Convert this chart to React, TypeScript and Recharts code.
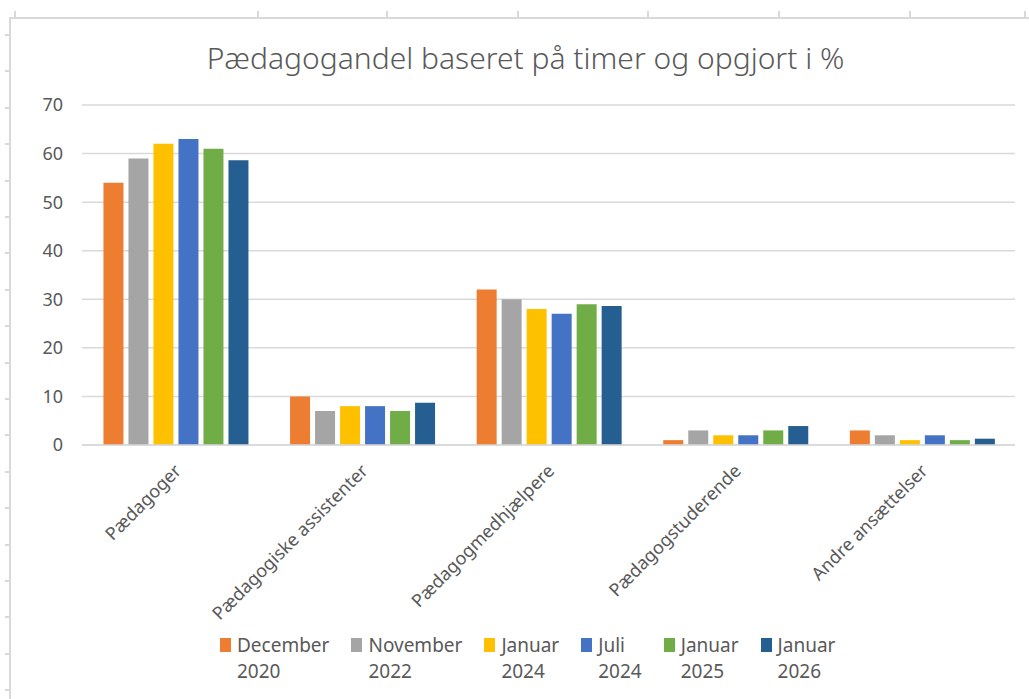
import React from 'react';
import { BarChart, Bar, XAxis, YAxis, CartesianGrid } from 'recharts';

// kategorier og serier
const categories = [
  'Pædagoger',
  'Pædagogiske assistenter',
  'Pædagogmedhjælpere',
  'Pædagogstuderende',
  'Andre ansættelser',
];
const december2020 = [54, 10, 32, 1, 3];
const november2022 = [59, 7, 30, 3, 2];
const januar2024 = [62, 8, 28, 2, 1];
const juli2024 = [63, 8, 27, 2, 2];
const januar2025 = [61, 7, 29, 3, 1];
const januar2026 = [58.6, 8.7, 28.6, 3.9, 1.3];
const yTicks = [0, 10, 20, 30, 40, 50, 60, 70];

const series = [
  { key: 'd20', name: ['December', '2020'], values: december2020, color: '#ED7D31' },
  { key: 'n22', name: ['November', '2022'], values: november2022, color: '#A5A5A5' },
  { key: 'j24', name: ['Januar', '2024'], values: januar2024, color: '#FFC000' },
  { key: 'jul24', name: ['Juli', '2024'], values: juli2024, color: '#4472C4' },
  { key: 'j25', name: ['Januar', '2025'], values: januar2025, color: '#70AD47' },
  { key: 'j26', name: ['Januar', '2026'], values: januar2026, color: '#255E91' },
];

// regneark-baggrund (kolonne- og rækkemarkeringer)
const colMarks = [15, 258, 387, 518, 648, 779, 910, 1025];
const rowMarks = Array.from({ length: 19 }, (_, i) => 35 + i * 36.4);

const FONT = '"Noto Sans", "Open Sans", sans-serif';
const TEXT = '#595959';
const GRID = '#d9d9d9';

const data = categories.map((c, i) => {
  const row: Record<string, string | number> = { name: c };
  series.forEach(s => { row[s.key] = s.values[i]; });
  return row;
});

const CategoryTick = (props: any) => {
  const { x, y, payload } = props;
  return (
    <g transform={`translate(${x + 7},${y + 19})`}>
      <text textAnchor="end" transform="rotate(-45)" fill={TEXT} fontSize={18} fontFamily={FONT}>
        {payload.value}
      </text>
    </g>
  );
};

export default function App() {
  return (
    <div style={{ position: 'absolute', left: 0, top: 0, width: 1029, height: 699, background: '#fff', overflow: 'hidden', fontFamily: FONT }}>
      {colMarks.map(x => (
        <div key={'c' + x} style={{ position: 'absolute', left: x - 1, top: 11, width: 2, height: 7, background: GRID }} />
      ))}
      {rowMarks.map(y => (
        <div key={'r' + y} style={{ position: 'absolute', left: 5, top: y - 1, width: 5, height: 2, background: GRID }} />
      ))}
      <div style={{ position: 'absolute', left: 9, top: 17, right: 0, height: 2, background: GRID }} />
      <div style={{ position: 'absolute', left: 9, top: 17, width: 2, bottom: 0, background: GRID }} />

      <div style={{ position: 'absolute', left: 0, width: 1051, top: 37, textAlign: 'center', fontSize: 30, fontWeight: 300, color: TEXT, whiteSpace: 'nowrap' }}>
        Pædagogandel baseret på timer og opgjort i %
      </div>

      <div style={{ position: 'absolute', left: 0, top: 0 }}>
        <BarChart
          width={1029}
          height={699}
          data={data}
          margin={{ top: 105, right: 14, bottom: 0, left: 0 }}
          barCategoryGap="11.5%"
          barGap={5}
        >
          <CartesianGrid vertical={false} stroke={GRID} strokeWidth={1.5} />
          <XAxis
            dataKey="name"
            axisLine={{ stroke: GRID, strokeWidth: 1.5 }}
            tickLine={false}
            interval={0}
            height={254}
            tick={<CategoryTick />}
          />
          <YAxis
            domain={[0, 70]}
            ticks={yTicks}
            width={82}
            axisLine={false}
            tickLine={false}
            tickSize={0}
            tickMargin={19}
            tick={{ fill: TEXT, fontSize: 18, fontFamily: FONT }}
          />
          {series.map(s => (
            <Bar key={s.key} dataKey={s.key} fill={s.color} isAnimationActive={false} />
          ))}
        </BarChart>
      </div>

      <div style={{ position: 'absolute', left: 220, top: 632, display: 'flex', gap: 22, fontSize: 19, color: TEXT, lineHeight: '26px' }}>
        {series.map(s => (
          <div key={s.key} style={{ display: 'flex', alignItems: 'flex-start' }}>
            <div style={{ width: 11, height: 14, background: s.color, marginTop: 6, marginRight: 6 }} />
            <div>
              <div>{s.name[0]}</div>
              <div>{s.name[1]}</div>
            </div>
          </div>
        ))}
      </div>
    </div>
  );
}
